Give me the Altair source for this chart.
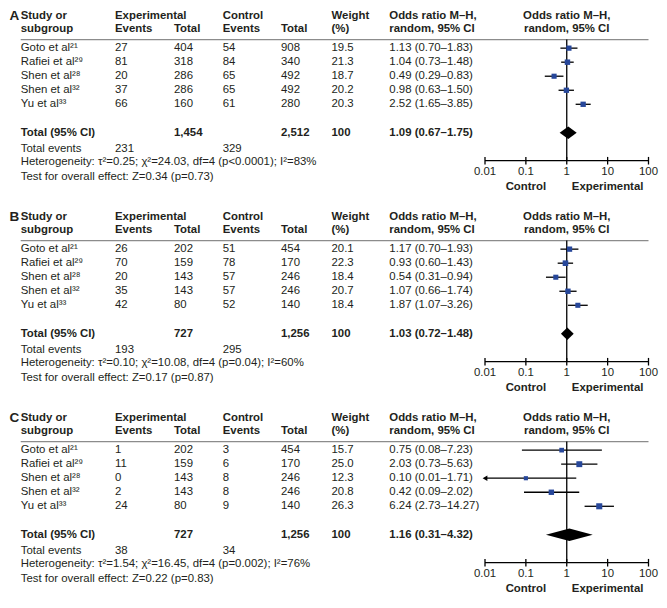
import altair as alt
import pandas as pd

# ---------------- data ----------------
STUDIES = ["Goto et al²¹", "Rafiei et al²⁹", "Shen et al²⁸", "Shen et al³²", "Yu et al³³"]

A_EXP_EVENTS = [27, 81, 20, 37, 66]
A_EXP_TOTAL = [404, 318, 286, 286, 160]
A_CTRL_EVENTS = [54, 84, 65, 65, 61]
A_CTRL_TOTAL = [908, 340, 492, 492, 280]
A_WEIGHT = [19.5, 21.3, 18.7, 20.2, 20.3]
A_OR = [1.13, 1.04, 0.49, 0.98, 2.52]
A_LO = [0.70, 0.73, 0.29, 0.63, 1.65]
A_HI = [1.83, 1.48, 0.83, 1.50, 3.85]
A_POOLED = [1.09, 0.67, 1.75]
A_TOTALS = ["1,454", "2,512"]
A_EVENTS = ["231", "329"]
A_HET = "Heterogeneity: τ²=0.25; χ²=24.03, df=4 (p<0.0001); I²=83%"
A_TEST = "Test for overall effect: Z=0.34 (p=0.73)"

B_EXP_EVENTS = [26, 70, 20, 35, 42]
B_EXP_TOTAL = [202, 159, 143, 143, 80]
B_CTRL_EVENTS = [51, 78, 57, 57, 52]
B_CTRL_TOTAL = [454, 170, 246, 246, 140]
B_WEIGHT = [20.1, 22.3, 18.4, 20.7, 18.4]
B_OR = [1.17, 0.93, 0.54, 1.07, 1.87]
B_LO = [0.70, 0.60, 0.31, 0.66, 1.07]
B_HI = [1.93, 1.43, 0.94, 1.74, 3.26]
B_POOLED = [1.03, 0.72, 1.48]
B_TOTALS = ["727", "1,256"]
B_EVENTS = ["193", "295"]
B_HET = "Heterogeneity: τ²=0.10; χ²=10.08, df=4 (p=0.04); I²=60%"
B_TEST = "Test for overall effect: Z=0.17 (p=0.87)"

C_EXP_EVENTS = [1, 11, 0, 2, 24]
C_EXP_TOTAL = [202, 159, 143, 143, 80]
C_CTRL_EVENTS = [3, 6, 8, 8, 9]
C_CTRL_TOTAL = [454, 170, 246, 246, 140]
C_WEIGHT = [15.7, 25.0, 12.3, 20.8, 26.3]
C_OR = [0.75, 2.03, 0.10, 0.42, 6.24]
C_LO = [0.08, 0.73, 0.01, 0.09, 2.73]
C_HI = [7.23, 5.63, 1.71, 2.02, 14.27]
C_POOLED = [1.16, 0.31, 4.32]
C_TOTALS = ["727", "1,256"]
C_EVENTS = ["38", "34"]
C_HET = "Heterogeneity: τ²=1.54; χ²=16.45, df=4 (p=0.002); I²=76%"
C_TEST = "Test for overall effect: Z=0.22 (p=0.83)"

AXIS_TICKS = [0.01, 0.1, 1, 10, 100]
AXIS_LABELS = ["0.01", "0.1", "1", "10", "100"]
HEADER_1 = ["Study or", "Experimental", "Control", "Weight", "Odds ratio M–H,"]
HEADER_2 = ["subgroup", "Events", "Total", "Events", "Total", "(%)", "random, 95% CI"]

# ---------------- layout / style ----------------
FONT = "Liberation Sans"
FS = 11.4
TXT = "#231f20"
BLUE = "#27479a"
W, H = 640, 185
Y_DOMAIN = [-2.86, 10.32]
COL_DOMAIN = [-1, 0, 1, 2, 3, 4, 5, 6, 7]
COL_RANGE = [1.5, 12.7, 107, 166, 214.7, 273, 323.5, 381.3, 640.5]
FOREST_RANGE = [477, 640.5]
R_H1, R_H2, R_LINE = -2.29, -1.36, -0.61
R_TOTAL, R_EVENTS, R_HET, R_TEST = 6.03, 7.15, 8.09, 9.18
R_AXIS, R_TICKLAB, R_SIDE = 8.02, 8.83, 9.9
DIAMOND_HALF = 0.44
TICK_HALF = 0.27


def tx(field="col"):
    return alt.X(f"{field}:Q", scale=alt.Scale(domain=COL_DOMAIN, range=COL_RANGE, nice=False, zero=False), axis=None)


def fx(field):
    return alt.X(f"{field}:Q", scale=alt.Scale(type="log", domain=[0.01, 100], range=FOREST_RANGE, nice=False), axis=None)


def yy(field="row"):
    return alt.Y(f"{field}:Q", scale=alt.Scale(domain=Y_DOMAIN, reverse=True, nice=False, zero=False), axis=None)


def make_panel(label, ee, et, ce, ct, w, orr, lo, hi, pooled, totals, events, het, test):
    recs = []
    for c, t in zip([0, 1, 3, 5, 6], HEADER_1):
        recs.append(dict(col=c, row=R_H1, text=t, bold=True))
    for c, t in zip([0, 1, 2, 3, 4, 5, 6], HEADER_2):
        recs.append(dict(col=c, row=R_H2, text=t, bold=True))
    for i, s in enumerate(STUDIES):
        vals = [s, str(ee[i]), str(et[i]), str(ce[i]), str(ct[i]), f"{w[i]:.1f}",
                f"{orr[i]:.2f} ({lo[i]:.2f}–{hi[i]:.2f})"]
        for c, t in enumerate(vals):
            recs.append(dict(col=c, row=i, text=t, bold=False))
    for c, t in zip([0, 2, 4, 5, 6], ["Total (95% CI)", totals[0], totals[1], "100",
                                       f"{pooled[0]:.2f} ({pooled[1]:.2f}–{pooled[2]:.2f})"]):
        recs.append(dict(col=c, row=R_TOTAL, text=t, bold=True))
    for c, t in zip([0, 1, 3], ["Total events", events[0], events[1]]):
        recs.append(dict(col=c, row=R_EVENTS, text=t, bold=False))
    recs.append(dict(col=0, row=R_HET, text=het, bold=False))
    recs.append(dict(col=0, row=R_TEST, text=test, bold=False))
    tdf = pd.DataFrame(recs)

    base_txt = alt.Chart(tdf).encode(x=tx(), y=yy(), text="text:N")
    t_norm = base_txt.transform_filter("!datum.bold").mark_text(
        align="left", baseline="middle", font=FONT, fontSize=FS, color=TXT)
    t_bold = base_txt.transform_filter("datum.bold").mark_text(
        align="left", baseline="middle", font=FONT, fontSize=FS, color=TXT, fontWeight="bold")
    t_label = alt.Chart(pd.DataFrame([dict(col=-1, row=R_H1, text=label)])).mark_text(
        align="left", baseline="middle", font=FONT, fontSize=13.5, fontWeight="bold", color=TXT
    ).encode(x=tx(), y=yy(), text="text:N")

    hline = alt.Chart(pd.DataFrame([dict(col=0, col2=7, row=R_LINE)])).mark_rule(
        color="#8c8c8c", strokeWidth=1.2).encode(x=tx(), x2="col2:Q", y=yy())

    fhead = alt.Chart(pd.DataFrame([dict(x=1, row=R_H1, text="Odds ratio M–H,"),
                                    dict(x=1, row=R_H2, text="random, 95% CI")])).mark_text(
        align="center", baseline="middle", font=FONT, fontSize=FS, fontWeight="bold", color=TXT
    ).encode(x=fx("x"), y=yy(), text="text:N")

    vline = alt.Chart(pd.DataFrame([dict(x=1, row=R_LINE, row2=R_AXIS)])).mark_rule(
        color="black", strokeWidth=1.3).encode(x=fx("x"), y=yy(), y2="row2:Q")

    fdf = pd.DataFrame(dict(row=list(range(5)), est=orr, lo=lo, hi=hi, w=w,
                            trunc=[l <= 0.01 for l in lo]))
    ci = alt.Chart(fdf).mark_rule(color="black", strokeWidth=1.3).encode(
        x=fx("lo"), x2="hi:Q", y=yy())
    arrow = alt.Chart(fdf).transform_filter("datum.trunc").mark_point(
        shape="triangle-left", filled=True, color="black", size=30, opacity=1).encode(
        x=fx("lo"), y=yy())
    sq = alt.Chart(fdf).mark_square(color=BLUE, opacity=1).encode(
        x=fx("est"), y=yy(),
        size=alt.Size("w:Q", scale=alt.Scale(domain=[0, 30], range=[0, 42], zero=True), legend=None))

    ddf = pd.DataFrame(dict(x=[pooled[1], pooled[0], pooled[2]],
                            y1=[R_TOTAL, R_TOTAL - DIAMOND_HALF, R_TOTAL],
                            y2=[R_TOTAL, R_TOTAL + DIAMOND_HALF, R_TOTAL]))
    diamond = alt.Chart(ddf).mark_area(color="black", orient="vertical", opacity=1).encode(
        x=fx("x"), y=yy("y1"), y2="y2:Q")

    axline = alt.Chart(pd.DataFrame([dict(x=AXIS_TICKS[0], x2=AXIS_TICKS[-1], row=R_AXIS)])).mark_rule(
        color="black", strokeWidth=1.3).encode(x=fx("x"), x2="x2:Q", y=yy())
    tdf2 = pd.DataFrame(dict(x=AXIS_TICKS, lab=AXIS_LABELS, r1=R_AXIS - TICK_HALF,
                             r2=R_AXIS + TICK_HALF, rl=R_TICKLAB))
    ticks = alt.Chart(tdf2).mark_rule(color="black", strokeWidth=1.3).encode(
        x=fx("x"), y=yy("r1"), y2="r2:Q")
    ticklab = alt.Chart(tdf2).mark_text(align="center", baseline="middle", font=FONT,
                                        fontSize=FS, color=TXT).encode(
        x=fx("x"), y=yy("rl"), text="lab:N")
    side = alt.Chart(pd.DataFrame([dict(x=0.1, row=R_SIDE, text="Control"),
                                   dict(x=10, row=R_SIDE, text="Experimental")])).mark_text(
        align="center", baseline="middle", font=FONT, fontSize=FS, fontWeight="bold", color=TXT
    ).encode(x=fx("x"), y=yy(), text="text:N")

    return alt.layer(t_norm, t_bold, t_label, hline, fhead, vline, ci, arrow, sq, diamond,
                     axline, ticks, ticklab, side).resolve_scale(x="independent").properties(
        width=W, height=H)


pa = make_panel("A", A_EXP_EVENTS, A_EXP_TOTAL, A_CTRL_EVENTS, A_CTRL_TOTAL, A_WEIGHT,
                A_OR, A_LO, A_HI, A_POOLED, A_TOTALS, A_EVENTS, A_HET, A_TEST)
pb = make_panel("B", B_EXP_EVENTS, B_EXP_TOTAL, B_CTRL_EVENTS, B_CTRL_TOTAL, B_WEIGHT,
                B_OR, B_LO, B_HI, B_POOLED, B_TOTALS, B_EVENTS, B_HET, B_TEST)
pc = make_panel("C", C_EXP_EVENTS, C_EXP_TOTAL, C_CTRL_EVENTS, C_CTRL_TOTAL, C_WEIGHT,
                C_OR, C_LO, C_HI, C_POOLED, C_TOTALS, C_EVENTS, C_HET, C_TEST)

chart = alt.vconcat(pa, pb, pc, spacing=16).properties(padding=0).configure_view(stroke=None)
chart.save("out.html", embed_options={"renderer": "svg", "actions": False})
